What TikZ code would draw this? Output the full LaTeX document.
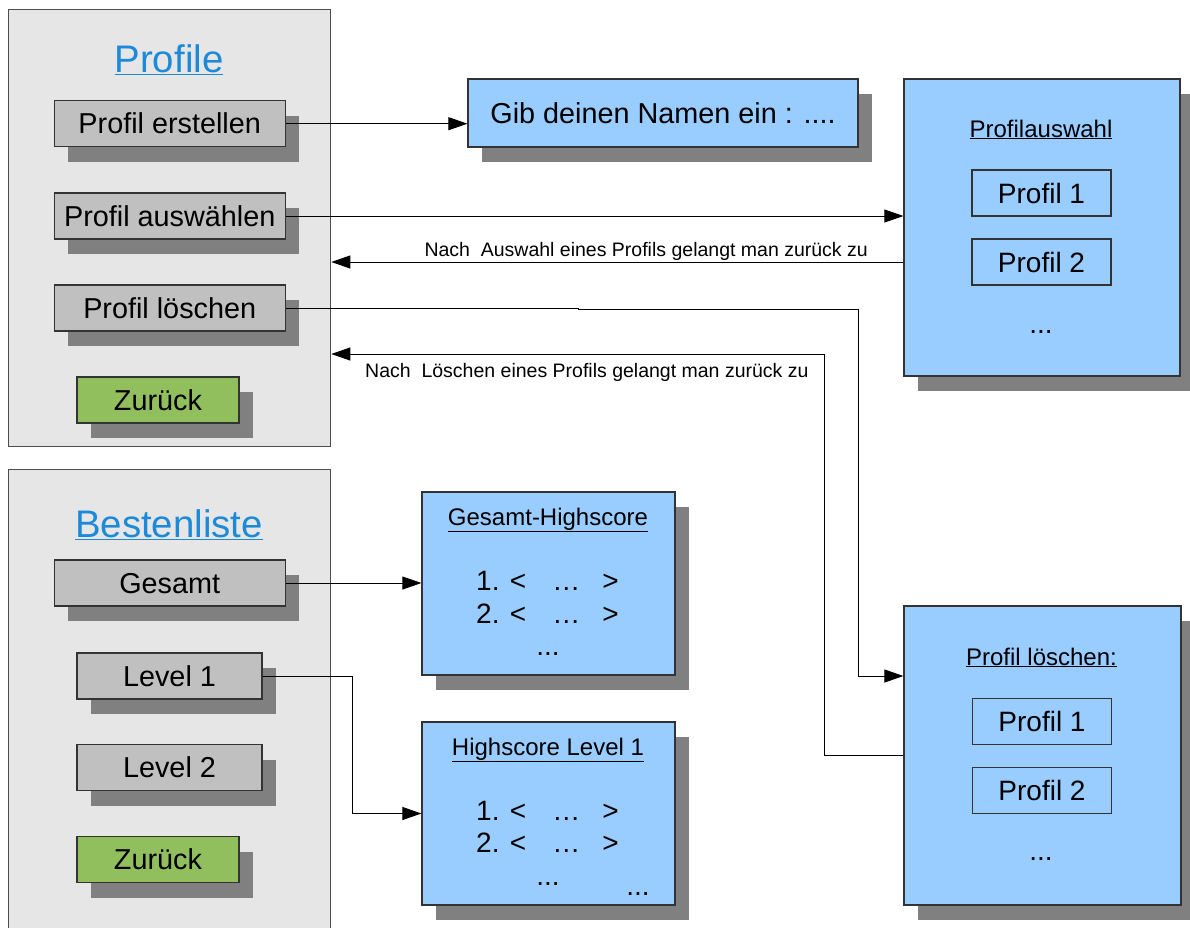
\documentclass[tikz,border=0pt]{standalone}
\usepackage{fontspec}
\setmainfont{Liberation Sans}
\usetikzlibrary{arrows.meta,shadows}

\definecolor{panelfill}{HTML}{E6E6E6}
\definecolor{panelline}{HTML}{4D4D4D}
\definecolor{boxline}{HTML}{333333}
\definecolor{btnfill}{HTML}{C0C0C0}
\definecolor{backgreen}{HTML}{92BF5E}
\definecolor{screenblue}{HTML}{99CCFF}
\definecolor{shade}{HTML}{808080}
\definecolor{titleblue}{HTML}{1C8AD8}

\newcommand\bigsize{\fontsize{38.4}{44}\selectfont}
\newcommand\btnsize{\fontsize{28.8}{32}\selectfont}
\newcommand\rowsize{\fontsize{28}{32}\selectfont}
\newcommand\headsize{\fontsize{24}{28}\selectfont}
\newcommand\notesize{\fontsize{19.5}{22}\selectfont}

\begin{document}
\begin{tikzpicture}[x=1pt,y=-1pt,
    panelbox/.style={draw=panelline,fill=panelfill,line width=1.3pt,inner sep=0pt,anchor=north west},
    menubtn/.style={draw=boxline,fill=btnfill,line width=1.2pt,inner sep=0pt,minimum height=46pt,
      text height=20pt,text depth=0pt,font=\btnsize,
      drop shadow={shadow xshift=13.5pt,shadow yshift=-15pt,opacity=1,fill=shade}},
    backbtn/.style={menubtn,fill=backgreen,minimum width=162pt},
    screenbox/.style={draw=boxline,fill=screenblue,line width=1.2pt,inner sep=0pt,
      drop shadow={shadow xshift=14pt,shadow yshift=-15pt,opacity=1,fill=shade}},
    entrybox/.style={draw=boxline,line width=1.2pt,inner sep=0pt,minimum width=139pt,minimum height=46pt,
      text height=20pt,text depth=0pt,font=\rowsize},
    paneltitle/.style={anchor=base,text=titleblue,font=\bigsize,inner sep=0pt},
    screenhead/.style={anchor=base,font=\headsize,inner sep=0pt},
    rowtext/.style={anchor=base west,font=\rowsize,inner sep=0pt},
    dots/.style={anchor=base,font=\rowsize,inner sep=0pt},
    notetext/.style={font=\notesize,inner sep=0pt},
    conn/.style={line width=0.9pt,-{Triangle[length=19pt,width=13pt]}}]

    \clip (0,0) rectangle (1190,927);

    % menu panels
    \node[panelbox,minimum width=322pt,minimum height=437pt] (profile) at (8,9) {};
    \node[panelbox,minimum width=322pt,minimum height=480pt] (besten) at (8,469) {};
    \node[paneltitle] (profiletitle) at (169,72) {\underline{Profile}};
    \node[paneltitle] (bestentitle) at (169,537) {\underline{Bestenliste}};

    \node[menubtn,minimum width=231pt] (erstellen) at (169.7,123.7) {Profil erstellen};
    \node[menubtn,minimum width=231pt] (auswaehlen) at (169.7,216) {Profil auswählen};
    \node[menubtn,minimum width=231pt] (loeschen) at (169.7,308) {Profil löschen};
    \node[backbtn] (zurueckA) at (158,400) {Zurück};

    \node[menubtn,minimum width=231pt] (gesamt) at (169.7,583) {Gesamt};
    \node[menubtn,minimum width=185pt] (level1) at (169.5,676) {Level 1};
    \node[menubtn,minimum width=185pt] (level2) at (169.5,767.5) {Level 2};
    \node[backbtn] (zurueckB) at (158,859.5) {Zurück};

    % screens
    \node[screenbox,minimum width=390pt,minimum height=68pt,font=\btnsize] (gib) at (663,113) {Gib deinen Namen ein : ....};

    \node[screenbox,minimum width=276pt,minimum height=297pt] (auswahl) at (1042,227.5) {};
    \node[screenhead] (auswahlhead) at (1041,137) {\underline{Profilauswahl}};
    \node[entrybox] (p1a) at (1041.5,193) {Profil 1};
    \node[entrybox] (p2a) at (1041.5,262) {Profil 2};
    \node[dots] (auswahldots) at (1041,333) {...};

    \node[screenbox,minimum width=277pt,minimum height=299pt] (loeschbox) at (1042.5,755.5) {};
    \node[screenhead] (loeschhead) at (1041.5,665) {\underline{Profil löschen:}};
    \node[entrybox] (p1b) at (1042,721.5) {Profil 1};
    \node[entrybox] (p2b) at (1042,790.5) {Profil 2};
    \node[dots] (loeschdots) at (1041,860) {...};

    \node[screenbox,minimum width=253pt,minimum height=183pt] (hsgesamt) at (548.5,583.5) {};
    \node[screenhead] (gesamthead) at (548,525) {\underline{Gesamt-Highscore}};
    \node[rowtext] (g1) at (476,590) {1. <\hspace{26pt}…\hspace{22pt}>};
    \node[rowtext] (g2) at (476,623) {2. <\hspace{26pt}…\hspace{22pt}>};
    \node[dots] (gdots) at (548,655) {...};

    \node[screenbox,minimum width=253pt,minimum height=183pt] (hslevel) at (548.5,813.5) {};
    \node[screenhead] (levelhead) at (548,755) {\underline{Highscore Level 1}};
    \node[rowtext] (l1) at (476,820) {1. <\hspace{26pt}…\hspace{22pt}>};
    \node[rowtext] (l2) at (476,852) {2. <\hspace{26pt}…\hspace{22pt}>};
    \node[dots] (ldots) at (548,885) {...};
    \node[dots] (ldotsB) at (638,895) {...};

    % connectors
    \coordinate (loeschin) at (loeschbox.west |- 0,676);
    \coordinate (loeschback) at (824,354);

    \draw[conn] (erstellen.east) -- (erstellen.east -| gib.west);
    \draw[conn] (auswaehlen.east) -- (auswaehlen.east -| auswahl.west);
    \draw[conn] (auswahl.west |- p2a) -- (profile.east |- p2a);
    \draw[conn] (loeschen.east) -- (578,308) -- (578,309) -- (858,309) |- (loeschin);
    \draw[conn] (loeschbox.west) -| (loeschback) -- (profile.east |- loeschback);
    \draw[conn] (gesamt.east) -- (gesamt.east -| hsgesamt.west);
    \draw[conn] (level1.east) -- (352,676) |- (hslevel.west);

    \node[notetext,anchor=base east] (note1) at (868,256) {Nach\ \ Auswahl eines Profils gelangt man zurück zu};
    \node[notetext,anchor=base west] (note2) at (365,377) {Nach\ \ Löschen eines Profils gelangt man zurück zu};

\end{tikzpicture}
\end{document}
